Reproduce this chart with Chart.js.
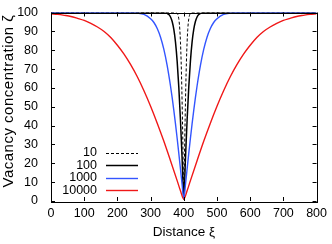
<!DOCTYPE html>
<html>
<head>
<meta charset="utf-8">
<script src="https://cdn.jsdelivr.net/npm/chart.js@4/dist/chart.umd.min.js"></script>
<style>
html,body{margin:0;padding:0;background:#fff;}
#wrap{width:332px;height:244px;}
</style>
</head>
<body>
<div id="wrap"><canvas id="c" width="332" height="244"></canvas></div>
<script>
// ---- data ----
const seriesLabels = ["10", "100", "1000", "10000"];
const xTicks = [0, 100, 200, 300, 400, 500, 600, 700, 800];
const yTicks = [0, 10, 20, 30, 40, 50, 60, 70, 80, 90, 100];
const xTitle = 'Distance ξ';
const yTitle = 'Vacancy concentration ζ';

const x10 = [0,360,370,375,380,382,384,386,388,390,392,394,396,398,400,402,404,406,408,410,412,414,416,418,420,425,430,440,800];
const y10 = [100,100,100,100,99.5,98.9,97.6,95.2,91.0,84.3,74.2,60.4,42.8,22.3,1,22.3,42.8,60.4,74.2,84.3,91.0,95.2,97.6,98.9,99.5,100,100,100,100];

const x100 = [0,320,330,340,345,350,355,360,365,370,375,380,385,390,395,400,405,410,415,420,425,430,435,440,445,450,455,460,470,480,800];
const y100 = [100,100,100,99.9,99.8,99.5,98.9,97.6,95.2,91.0,84.3,74.2,60.4,42.8,22.3,1,22.3,42.8,60.4,74.2,84.3,91.0,95.2,97.6,98.9,99.5,99.8,99.9,100,100,100];

const x1000 = [0,200,240,260,280,300,310,320,330,340,350,360,365,370,375,380,385,390,395,400,405,410,415,420,425,430,435,440,450,460,470,480,490,500,520,540,560,600,800];
const y1000 = [100,100,99.9,99.7,99.0,96.7,94.7,91.5,86.9,80.4,71.8,61.0,54.8,48.1,40.9,33.3,25.3,17.0,8.6,1,8.6,17.0,25.3,33.3,40.9,48.1,54.8,61.0,71.8,80.4,86.9,91.5,94.7,96.7,99.0,99.7,99.9,100,100];

const x10000 = [0,20,40,60,80,100,120,140,160,180,200,220,240,260,280,300,320,340,360,380,390,400,410,420,440,460,480,500,520,540,560,580,600,620,640,660,680,700,720,740,760,780,800];
const y10000 = [99.3,99.0,98.5,97.9,96.9,95.8,94.2,92.3,89.9,86.7,82.6,77.9,72.3,65.9,58.5,50.3,41.3,31.7,21.4,10.8,5.4,1,5.4,10.8,21.4,31.7,41.3,50.3,58.5,65.9,72.3,77.9,82.6,86.7,89.9,92.3,94.2,95.8,96.9,97.9,98.5,99.0,99.3];

const pts = (xs, ys) => xs.map((x, i) => ({x: x, y: ys[i]}));

const FAM = "'Liberation Sans', Arial, sans-serif";
Chart.defaults.font.family = FAM;
Chart.defaults.font.size = 12.5;
Chart.defaults.color = '#000';

const frame = {
  id: 'frame',
  afterDatasetsDraw(chart) {
    const {ctx, chartArea: a, scales} = chart;
    ctx.save();
    ctx.strokeStyle = '#000';
    ctx.lineWidth = 1;
    ctx.beginPath();
    const tl = 4;
    xTicks.forEach(v => {
      const px = Math.round(scales.x.getPixelForValue(v)) + 0.5;
      ctx.moveTo(px, a.bottom); ctx.lineTo(px, a.bottom - tl);
      ctx.moveTo(px, a.top); ctx.lineTo(px, a.top + tl);
    });
    yTicks.forEach(v => {
      const py = Math.round(scales.y.getPixelForValue(v)) + 0.5;
      ctx.moveTo(a.left, py); ctx.lineTo(a.left + tl, py);
      ctx.moveTo(a.right, py); ctx.lineTo(a.right - tl, py);
    });
    ctx.stroke();
    ctx.strokeRect(Math.round(a.left) + 0.5, Math.round(a.top) + 0.5, Math.round(a.right - a.left), Math.round(a.bottom - a.top));
    // legend
    const ds = chart.data.datasets;
    ctx.font = "12.5px " + FAM;
    ctx.textAlign = 'right';
    ctx.textBaseline = 'middle';
    ds.forEach((d, i) => {
      const y = a.bottom - 48 + i * 12.4;
      ctx.fillStyle = '#000';
      ctx.fillText(d.label, a.left + 46, y);
      ctx.beginPath();
      ctx.strokeStyle = d.borderColor;
      ctx.lineWidth = d.borderWidth;
      ctx.setLineDash(d.borderDash || []);
      ctx.moveTo(a.left + 55, Math.round(y) + 0.5);
      ctx.lineTo(a.left + 87, Math.round(y) + 0.5);
      ctx.stroke();
      ctx.setLineDash([]);
    });
    // y title
    ctx.save();
    ctx.translate(8.5, 101);
    ctx.rotate(-Math.PI / 2);
    ctx.font = "15px " + FAM;
    ctx.letterSpacing = '0.5px';
    ctx.textAlign = 'center';
    ctx.textBaseline = 'middle';
    ctx.fillStyle = '#000';
    ctx.fillText(yTitle, 0, 0);
    ctx.restore();
    ctx.restore();
  }
};

new Chart(document.getElementById('c'), {
  type: 'line',
  data: {
    datasets: [
      {label: seriesLabels[0], data: pts(x10, y10), borderColor: '#000', borderWidth: 1, borderDash: [3, 2], order: 3},
      {label: seriesLabels[1], data: pts(x100, y100), borderColor: '#000', borderWidth: 1.5, order: 2},
      {label: seriesLabels[2], data: pts(x1000, y1000), borderColor: '#3355ff', borderWidth: 1.4, order: 1},
      {label: seriesLabels[3], data: pts(x10000, y10000), borderColor: '#f01818', borderWidth: 1.4, order: 0}
    ]
  },
  options: {
    responsive: false,
    animation: false,
    events: [],
    elements: {point: {radius: 0}, line: {cubicInterpolationMode: 'monotone', fill: false}},
    layout: {padding: {top: 7, right: 10, left: 0, bottom: 0}},
    plugins: {legend: {display: false}, tooltip: {enabled: false}},
    scales: {
      x: {
        type: 'linear', min: 0, max: 800,
        afterBuildTicks: s => { s.ticks = xTicks.map(v => ({value: v})); },
        ticks: {padding: 5, maxRotation: 0, autoSkip: false},
        grid: {display: false, drawTicks: false}, border: {display: false},
        title: {display: true, text: xTitle, font: {size: 13.5}, padding: {top: 0, bottom: 4}},
        afterFit: s => { s.height = 43; }
      },
      y: {
        type: 'linear', min: 0, max: 100,
        afterBuildTicks: s => { s.ticks = yTicks.map(v => ({value: v})); },
        ticks: {padding: 5, autoSkip: false},
        grid: {display: false}, border: {display: false},
        title: {display: false},
        afterFit: s => { s.width = 51; }
      }
    }
  },
  plugins: [frame]
});
</script>
</body>
</html>
